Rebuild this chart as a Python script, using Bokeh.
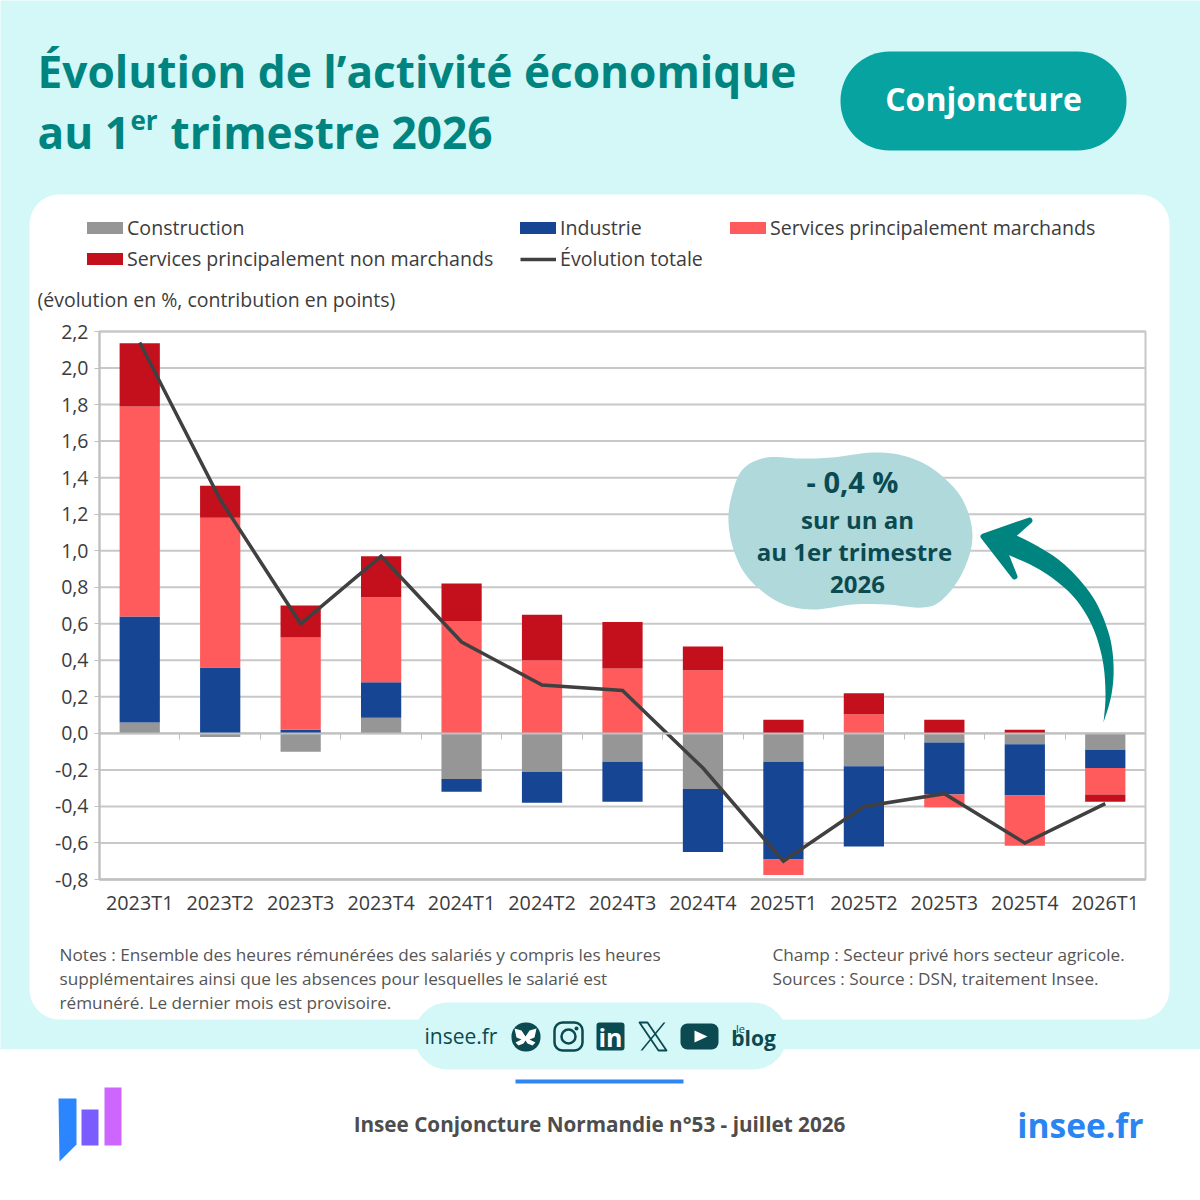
from bokeh.embed import file_html
from bokeh.resources import INLINE
from bokeh.plotting import figure
from bokeh.models import BoxAnnotation, FixedTicker, Label, Legend, LegendItem, LinearAxis, Range1d

categories = ["2023T1", "2023T2", "2023T3", "2023T4", "2024T1", "2024T2", "2024T3", "2024T4",
              "2025T1", "2025T2", "2025T3", "2025T4", "2026T1"]
construction = [0.06, -0.02, -0.10, 0.085, -0.25, -0.21, -0.155, -0.305, -0.155, -0.18, -0.05, -0.06, -0.09]
industrie = [0.58, 0.36, 0.02, 0.195, -0.07, -0.17, -0.22, -0.345, -0.535, -0.44, -0.285, -0.28, -0.10]
marchands = [1.15, 0.82, 0.505, 0.465, 0.615, 0.40, 0.355, 0.345, -0.085, 0.105, -0.07, -0.275, -0.145]
non_marchands = [0.345, 0.175, 0.175, 0.225, 0.205, 0.25, 0.255, 0.13, 0.075, 0.115, 0.075, 0.02, -0.04]
total = [2.14, 1.28, 0.60, 0.97, 0.50, 0.265, 0.235, -0.19, -0.70, -0.40, -0.33, -0.60, -0.385]
y_ticks = [-0.8, -0.6, -0.4, -0.2, 0.0, 0.2, 0.4, 0.6, 0.8, 1.0, 1.2, 1.4, 1.6, 1.8, 2.0, 2.2]
y_labels = ["-0,8", "-0,6", "-0,4", "-0,2", "0,0", "0,2", "0,4", "0,6", "0,8", "1,0", "1,2", "1,4", "1,6", "1,8", "2,0", "2,2"]

MINT, TEAL, PILL, DARK = "#D4F7F8", "#008480", "#07A3A0", "#0A4A50"
FONT = "Open Sans"
TXT = "#3C3C3C"

n_cat = len(categories)
slots = [i + 0.5 for i in range(n_cat)]
# plot area on the 1200 px canvas; the canvas content sits 1 px in from its corner
L, R, T, B = 100, 1146, 332, 880
Y_MIN, Y_MAX = -0.8, 2.2
OFF = 1
per_x = (R - L) / n_cat
per_y = (B - T) / (Y_MAX - Y_MIN)
x_start = -(L - OFF) / per_x
y_end = Y_MAX + (T - OFF) / per_y

p = figure(width=1200, height=1200, output_backend="svg", toolbar_location=None,
           x_range=Range1d(x_start, x_start + 1200 / per_x),
           y_range=Range1d(y_end - 1200 / per_y, y_end),
           min_border=0, min_border_left=0, min_border_right=0, min_border_top=0, min_border_bottom=0,
           border_fill_color=None, background_fill_color=None, outline_line_color=None)
p.extra_x_ranges["px"] = Range1d(OFF, 1200 + OFF)
p.extra_y_ranges["py"] = Range1d(1200 + OFF, OFF)
PX = dict(x_range_name="px", y_range_name="py")

# ---------- page decoration, in reference pixels ----------
def box(l, t, r, b, color=None, radius=0, level="guide", line=None, lw=0):
    p.add_layout(BoxAnnotation(left=l, right=r, top=t, bottom=b, fill_color=color, fill_alpha=1 if color else 0,
                               line_color=line, line_width=lw, line_alpha=1, border_radius=radius, level=level,
                               editable=False, **PX))

def poly(xs, ys, color, line=None, lw=0):
    p.patch(xs, ys, fill_color=color, line_color=line, line_width=lw, line_join="round", level="annotation", **PX)

def text(x, y, s, size, color=TXT, weight="normal", align="left", font=FONT):
    p.add_layout(Label(x=x, y=y - 0.3 - size * 0.015, text=s, text_font=font, text_font_size=f"{size}px", text_color=color,
                       text_font_style=weight, text_align=align, text_baseline="middle", level="annotation", **PX))

def catmull(p0, p1, p2, p3, n):
    out = []
    for k in range(n):
        t = k / n
        f = lambda a, b, c, d: 0.5 * (2 * b + (c - a) * t + (2 * a - 5 * b + 4 * c - d) * t * t + (3 * b - a - 3 * c + d) * t ** 3)
        out.append((f(p0[0], p1[0], p2[0], p3[0]), f(p0[1], p1[1], p2[1], p3[1])))
    return out

def smooth(pts, n=8):
    res = []
    m = len(pts)
    for i in range(m):
        res += catmull(pts[i - 1], pts[i], pts[(i + 1) % m], pts[(i + 2) % m], n)
    return [q[0] for q in res], [q[1] for q in res]

def smooth_open(pts, n=8):
    ext = [pts[0]] + pts + [pts[-1]]
    res = []
    for i in range(1, len(ext) - 2):
        res += catmull(ext[i - 1], ext[i], ext[i + 1], ext[i + 2], n)
    res.append(pts[-1])
    return res

box(-5, -5, 1205, 1050, MINT, 0, "image")
box(-5, 1050, 1205, 1205, "#FFFFFF", 0, "image")
box(30, 195, 1170, 1020, "#FFFFFF", 30, "image")
box(L, T, R, B, None, 0, "underlay", "#C8C8C8", 2)

# ---------- chart ----------
p.grid.visible = False
p.segment(x0=[0] * len(y_ticks), x1=[n_cat] * len(y_ticks), y0=y_ticks, y1=y_ticks, line_color="#C8C8C8", line_width=2)

y_axis = p.yaxis[0]
y_axis.fixed_location = 0
y_axis.bounds = (Y_MIN, Y_MAX)
y_axis.ticker = FixedTicker(ticks=y_ticks)
y_axis.major_label_overrides = dict(zip(y_ticks, y_labels))
y_axis.major_label_text_font = FONT
y_axis.major_label_text_font_size = "19.5px"
y_axis.major_label_text_color = TXT
y_axis.axis_line_color = "#C0C0C0"
y_axis.axis_line_width = 2
y_axis.major_tick_line_color = "#C0C0C0"
y_axis.major_tick_in = 0
y_axis.major_tick_out = 5
y_axis.minor_tick_line_color = None
y_axis.major_label_standoff = 6

x_axis = p.xaxis[0]
x_axis.fixed_location = Y_MIN
x_axis.bounds = (0, n_cat)
x_axis.ticker = FixedTicker(ticks=slots)
x_axis.major_label_overrides = dict(zip(slots, categories))
x_axis.major_label_text_font = FONT
x_axis.major_label_text_font_size = "19.8px"
x_axis.major_label_text_color = TXT
x_axis.axis_line_color = "#C0C0C0"
x_axis.axis_line_width = 2
x_axis.major_tick_line_color = None
x_axis.minor_tick_line_color = None
x_axis.major_label_standoff = 3

boundaries = list(range(1, n_cat))
zero_axis = LinearAxis(fixed_location=0, bounds=(0, n_cat), ticker=FixedTicker(ticks=boundaries),
                       major_label_overrides={b: "" for b in boundaries}, axis_line_color="#C0C0C0", axis_line_width=2,
                       major_tick_line_color="#C0C0C0", major_tick_in=0, major_tick_out=6, minor_tick_line_color=None)
p.add_layout(zero_axis, "below")

series = [("Construction", construction, "#969696"), ("Industrie", industrie, "#164594"),
          ("Services principalement marchands", marchands, "#FF5A5C"),
          ("Services principalement non marchands", non_marchands, "#C40F1C")]
pos = [0.0] * n_cat
neg = [0.0] * n_cat
handles = {}
for name, values, color in series:
    bottoms, tops = [], []
    for i, v in enumerate(values):
        base = pos if v >= 0 else neg
        bottoms.append(base[i])
        tops.append(base[i] + v)
        base[i] += v
    handles[name] = p.vbar(x=slots, bottom=bottoms, top=tops, width=0.5, fill_color=color, line_color=None)
handles["Évolution totale"] = p.line(x=slots, y=total, line_color="#404040", line_width=3.5, line_join="miter")

def legend(x, y, names, gw=45, gh=15, standoff=0):
    p.add_layout(Legend(items=[LegendItem(label=n, renderers=[handles[n]]) for n in names],
                        location=(x, y), orientation="vertical", border_line_color=None, background_fill_alpha=0,
                        glyph_width=gw, glyph_height=gh, label_standoff=standoff, spacing=4, padding=0, margin=0,
                        label_text_font=FONT, label_text_font_size="19.6px", label_text_color=TXT, level="annotation"), "center")

legend(82, 928, ["Construction", "Services principalement non marchands"])
legend(515, 959, ["Industrie"])
legend(520, 928, ["Évolution totale"], gw=36, gh=12, standoff=4)
legend(725, 959, ["Services principalement marchands"])

# ---------- texts ----------
text(38, 72, "Évolution de l’activité économique", 44.2, TEAL, "bold")
text(38, 133, "au 1", 44.2, TEAL, "bold")
text(131, 121, "er", 26, TEAL, "bold")
text(171, 133, "trimestre 2026", 44.2, TEAL, "bold")
box(841, 52, 1127, 151, PILL, 49)
text(984, 100, "Conjoncture", 32, "#FFFFFF", "bold", "center")

text(38, 301, "(évolution en %, contribution en points)", 19.5)
for y, s in zip((956, 980, 1004), ("Notes : Ensemble des heures rémunérées des salariés y compris les heures",
                                   "supplémentaires ainsi que les absences pour lesquelles le salarié est",
                                   "rémunéré. Le dernier mois est provisoire.")):
    text(60, y, s, 17.2, "#555555")
for y, s in zip((956, 980), ("Champ : Secteur privé hors secteur agricole.", "Sources : Source : DSN, traitement Insee.")):
    text(773, y, s, 17.2, "#555555")

# bubble and arrow
bubble = [(729, 523), (732, 497), (743, 470), (767, 458), (800, 459), (833, 458), (873, 453), (907, 457), (937, 472),
          (963, 500), (973, 537), (963, 573), (943, 600), (923, 608), (887, 605), (853, 605), (813, 610), (780, 603),
          (750, 580), (735, 553)]
bx, by = smooth(bubble)
poly(bx, by, "#B0D9DC")
text(853, 483, "- 0,4 %", 29, DARK, "bold", "center")
text(858, 521, "sur un an", 24, DARK, "bold", "center")
text(855, 553, "au 1er trimestre", 24, DARK, "bold", "center")
text(858, 586, "2026", 24, DARK, "bold", "center")
shaft = (smooth_open([(1104, 723), (1112, 695), (1114, 665), (1109, 633), (1093, 597), (1065, 565), (1035, 545), (1008, 532)])
         + smooth_open([(1003, 553), (1040, 570), (1072, 595), (1092, 625), (1103, 660), (1106, 695), (1104, 723)]))
poly([q[0] for q in shaft], [q[1] for q in shaft], TEAL)
poly([984, 1030, 1012, 1005, 1015], [537, 521, 537, 552, 577], TEAL, line=TEAL, lw=6)

# social band
box(415, 1003, 787, 1070, MINT, 33)
text(425, 1037, "insee.fr", 21, DARK, "normal")
box(512, 1023, 541, 1052, DARK, 14)
poly([526, 522, 515, 517, 522, 516, 519, 524, 526, 528, 533, 536, 530, 535, 537, 530],
     [1037, 1031, 1029, 1038, 1040, 1043, 1046, 1044, 1041, 1044, 1046, 1043, 1040, 1038, 1029, 1031], "#FFFFFF")
box(555, 1023, 583, 1051, None, 8, "guide", DARK, 2.5)
box(562, 1030, 576, 1044, None, 7, "guide", DARK, 2.5)
box(575, 1027, 579, 1031, DARK, 2)
box(597, 1023, 625, 1051, DARK, 3)
text(611, 1038, "in", 25, "#FFFFFF", "bold", "center")
poly([640, 648, 667, 659], [1023, 1023, 1051, 1051], None, line=DARK, lw=1.8)
poly([664, 666, 643, 641], [1023, 1023, 1051, 1051], DARK)
box(681, 1024, 719, 1050, DARK, 7)
poly([695, 708, 695], [1031, 1037, 1043], "#FFFFFF")
text(741, 1029, "le", 11, DARK, "normal", "center")
text(754, 1039, "blog", 21, DARK, "bold", "center")

# footer
box(516, 1080, 684, 1084, "#2E86F5")
text(600, 1125, "Insee Conjoncture Normandie n°53 - juillet 2026", 20.7, "#4D4D4D", "bold", "center")
text(1144, 1126, "insee.fr", 33.5, "#2A85F0", "bold", "right")
poly([59, 77, 77, 60], [1099, 1099, 1145, 1162], "#2A85FF")
box(82, 1110, 99, 1146, "#7A5CFF")
box(105, 1088, 122, 1146, "#CC66FF")

open("out.html", "w").write(file_html(p, INLINE))
